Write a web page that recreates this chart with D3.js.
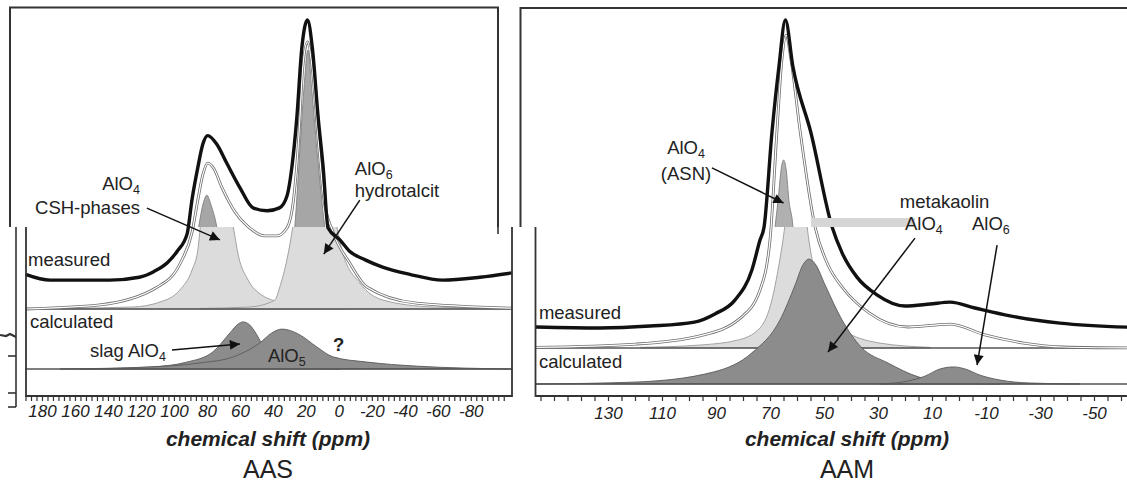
<!DOCTYPE html>
<html>
<head>
<meta charset="utf-8">
<script src="https://cdn.jsdelivr.net/npm/d3@7"></script>
<style>
  body { margin: 0; background: #fff; }
  svg { display: block; font-family: "Liberation Sans", Arial, Helvetica, sans-serif; }
</style>
</head>
<body>
<svg id="fig" width="1127" height="483"></svg>
<script>
// ---------- AAS (left figure), points are [ppm, intensity]
const aasMeasured = [[190,12],[175,10],[157,10],[139,10],[121,11],[112,13],[104,16],[98,20],[92,26],[89,38],
  [85.5,49],[82.5,57],[79.5,60],[74,57],[68,50.5],[60,42],[52,35],[43.5,34],[36,35],[31.5,39],[28.5,49],
  [25.5,66],[22.5,90],[19,100],[16,90],[12.5,66],[9.5,49],[6.5,28],[-0.5,24],[-6.5,20],[-16,17],
  [-26.5,14.5],[-43,12],[-63,10],[-85.5,11],[-105,12.5]];
const aasSum = [[190,0],[145,1.4],[110,7.6],[96,16],[89,26.6],[85.5,37.7],[82.5,46.4],[79.5,50.5],[76,48.8],
  [71,42.2],[63,33.6],[54,28],[45,25.3],[37.5,25.3],[31.5,28],[27.5,37.7],[24,62],[22,82.7],[19,92.4],
  [16,82.7],[12.5,58.5],[9,37.7],[3.5,26.6],[-6.5,16],[-17,7.6],[-47,2],[-105,0.3]];
// fitted components shown in the upper (full height) view
const aasTopCsh = [[93.3,0],[88.5,17],[85,28.4],[82.5,36],[80,39.4],[77.5,36],[74,28.4],[71,17],[65,0]];
const aasTopHt = [[32.7,0],[28.5,17],[26.7,28.4],[23.6,55],[21.2,75.8],[18.8,89.6],[16.4,75.8],[13.3,55],
  [8.5,28.4],[5.5,17],[0.6,0]];
// the same components in the expanded lower view
const aasCsh = [[169,0.2],[125,0.7],[108.5,2.4],[96.4,6.6],[89,13.5],[85.5,20.4],[84,28.4],[81,41],[74.5,48],
  [68,41],[64,28.4],[61,18.7],[55,10],[46.7,4.8],[38.8,2.8],[23.6,1],[-6.7,0.2]];
const aasHt = [[84,0.2],[54,0.7],[38.8,3.1],[35.8,7.6],[31.5,17],[27.9,28.4],[23.6,44.6],[14.5,55],[5.5,44.6],
  [1.2,28.4],[-2.4,19.4],[-12.7,9],[-26.7,3.1],[-57,0.7],[-105,0.2]];
// calculated components
const aasSlag = [[157,0],[114.5,0.7],[92,2.4],[76.4,5.9],[66,12.5],[61,15.6],[58,16.3],[54,15.2],[49.7,11.8],
  [44.8,6.6],[35.8,2.4],[23.6,0.7],[-0.6,0]];
const aasAlO5 = [[169,0],[114.5,0.7],[84,2.1],[64,4.2],[48,9],[40.6,12.5],[34.5,13.8],[28.5,13.1],[23.6,11.8],
  [13.3,7.6],[3.6,4.2],[-17,2.4],[-47,1],[-105,0]];
const aasTickLabels = [180,160,140,120,100,80,60,40,20,0,-20,-40,-60,-80];

// ---------- AAM (right figure)
const aamMeasured = [[156.7,6.4],[133,6.1],[114.4,6.7],[98,7.9],[90.4,10.4],[83,14.6],[76.7,23.8],[73.7,32.9],
  [72.2,36.9],[69.3,65.5],[66.7,85.7],[64.3,100],[61.5,85.7],[54.8,65.5],[47,36.9],[43.3,29],[37.8,21.6],
  [30.4,16.2],[20,12.8],[10.7,13.4],[3.3,14],[-5.9,12.2],[-18.9,9.8],[-37.4,7.6],[-64,6.3]];
const aamSum = [[156.7,0.2],[119.6,1.2],[96,3.7],[81,9.1],[73.7,17.7],[70,32.9],[67.4,66.5],[65.6,87.8],
  [64,95.4],[62.2,87.8],[58.9,66.5],[53.3,36.9],[48.5,25.3],[43.3,18.6],[33.3,10.7],[18.9,6.4],[8.9,7],
  [3.3,7.3],[-9.6,4],[-24,1.5],[-38.5,0.3],[-64,0]];
const aamTopAsn = [[73.7,0],[70,14.6],[68.1,36.9],[67,45],[65.9,54.3],[65,57.3],[64,54.3],[63,45],[61.5,36.9],
  [60,14.6],[55.6,0]];
const aamAsn = [[118,0.2],[96,0.9],[82,2.4],[73.7,6.1],[69.3,14.6],[66.7,25.3],[65.2,32.9],[63.3,45],[60.4,60.4],
  [57.4,45],[55.6,32.9],[54,25.3],[50.7,14.6],[44,6.1],[29.3,1.5],[10.7,0.2]];
const aamMkAlO4 = [[156.7,0],[119.6,0.6],[90.7,3.7],[76.7,9.5],[66.3,19.5],[60.7,30.2],[57.8,36.3],[55.6,38.1],
  [53,36.3],[49.6,30.2],[43.3,19.5],[36.3,11.3],[26.3,6.4],[14.8,2.1],[4.8,0.6],[-15,0]];
const aamMkAlO6 = [[29.3,0],[18.9,0.9],[12.6,2.4],[7,4.6],[1.9,5.2],[-2.2,4.6],[-7.8,2.7],[-15.2,1.2],
  [-26.3,0.3],[-44.8,0]];
const aamTickLabels = [130,110,90,70,50,30,10,-10,-30,-50];

const svg = d3.select("#fig");
const defs = svg.append("defs");
defs.append("marker").attr("id", "arr")
  .attr("viewBox", "0 0 10 10").attr("refX", 10).attr("refY", 5)
  .attr("markerWidth", 14).attr("markerHeight", 10)
  .attr("markerUnits", "userSpaceOnUse").attr("orient", "auto")
  .append("path").attr("d", "M0,0L10,5L0,10z").attr("fill", "#111");

function clip(id, r) {
  defs.append("clipPath").attr("id", id).append("rect")
    .attr("x", r[0]).attr("y", r[1]).attr("width", r[2]).attr("height", r[3]);
}

function chem(g, px, py, base, sub, anchor) {
  const t = g.append("text").attr("x", px).attr("y", py)
    .attr("text-anchor", anchor || "start").attr("font-size", 18.5).attr("fill", "#222");
  t.append("tspan").text(base);
  t.append("tspan").attr("font-size", 12.5).attr("dy", 4).text(sub);
}

function panel(p) {
  const x = d3.scaleLinear().domain(p.xDomain).range(p.xRange);
  const y = d3.scaleLinear().domain([0, 100]).range(p.yMeas);
  const yc = d3.scaleLinear().domain([0, 100]).range(p.yCalc);
  const line = ys => d3.line().x(d => x(d[0])).y(d => ys(d[1])).curve(d3.curveMonotoneX);
  const area = ys => d3.area().x(d => x(d[0])).y0(ys(0)).y1(d => ys(d[1])).curve(d3.curveMonotoneX);

  const fill = (g, data, ys, color, edge) => g.append("path").datum(data).attr("d", area(ys))
    .attr("fill", color).attr("stroke", edge).attr("stroke-width", 0.9);
  const sum = (g, data) => {
    g.append("path").datum(data).attr("d", line(y)).attr("fill", "none")
      .attr("stroke", "#6e6e6e").attr("stroke-width", 2.8);
    g.append("path").datum(data).attr("d", line(y)).attr("fill", "none")
      .attr("stroke", "#fff").attr("stroke-width", 1.2);
  };
  const meas = g => g.append("path").datum(p.measured).attr("d", line(y)).attr("fill", "none")
    .attr("stroke", "#111").attr("stroke-width", 3.4).attr("stroke-linejoin", "round");

  // upper, full-height view
  clip(p.id + "top", p.topClip);
  const top = svg.append("g").attr("clip-path", `url(#${p.id}top)`);
  top.append("rect").attr("x", p.topBox[0]).attr("y", p.topBox[1])
    .attr("width", p.topBox[2]).attr("height", p.topBox[3])
    .attr("fill", "#fff").attr("stroke", "#333").attr("stroke-width", 2);
  p.topParts.forEach(c => fill(top, c, y, p.topColor, "#808080"));
  sum(top, p.sum);
  meas(top);

  // lower, expanded view
  clip(p.id + "low", p.lowClip);
  const low = svg.append("g").attr("clip-path", `url(#${p.id}low)`);
  p.lowParts.forEach(c => fill(low, c, y, "#dcdcdc", "#9a9a9a"));
  low.append("line").attr("x1", x.range()[0]).attr("x2", x.range()[1])
    .attr("y1", y(0)).attr("y2", y(0)).attr("stroke", "#555").attr("stroke-width", 1.6);
  p.calcParts.forEach(c => fill(low, c, yc, "#8c8c8c", "#5a5a5a"));
  low.append("line").attr("x1", x.range()[0]).attr("x2", x.range()[1])
    .attr("y1", yc(0)).attr("y2", yc(0)).attr("stroke", "#555").attr("stroke-width", 1.6);
  sum(low, p.sum);
  meas(low);

  // frame of the lower view
  const f = p.lowFrame;
  const fr = svg.append("g").attr("stroke", "#333").attr("stroke-width", 1.8).attr("fill", "none");
  fr.append("line").attr("x1", f.left).attr("x2", f.left).attr("y1", f.top).attr("y2", f.bottom + 0.9);
  fr.append("line").attr("x1", f.left).attr("x2", f.right).attr("y1", f.bottom).attr("y2", f.bottom);
  if (f.rightLine) fr.append("line").attr("x1", f.right).attr("x2", f.right).attr("y1", f.top).attr("y2", f.bottom + 0.9);

  // axis
  const ax = svg.append("g").attr("transform", `translate(0,${f.bottom})`);
  ax.append("g").call(d3.axisBottom(x).tickValues(p.minorTicks).tickSize(5).tickSizeOuter(0).tickFormat(""))
    .call(g => g.select(".domain").remove())
    .call(g => g.selectAll("line").attr("stroke", "#333").attr("stroke-width", 1.2));
  ax.append("g").call(d3.axisBottom(x).tickValues(p.tickLabels).tickSize(0).tickPadding(p.labelPad)
      .tickFormat(d => String(d)))
    .call(g => g.select(".domain").remove())
    .call(g => g.selectAll("text").attr("font-size", 17).attr("font-style", "italic")
      .attr("fill", "#222").attr("font-family", "Liberation Sans, Arial, sans-serif"));

  svg.append("text").attr("x", p.titleX).attr("y", 446).attr("text-anchor", "middle")
    .attr("font-size", 21).attr("font-weight", "bold").attr("font-style", "italic").attr("fill", "#222")
    .text("chemical shift (ppm)");
  svg.append("text").attr("x", p.titleX).attr("y", 478).attr("text-anchor", "middle")
    .attr("font-size", 25).attr("fill", "#222").text(p.name);

  return { x, y };
}

// ---------- left
const L = panel({
  id: "aas", name: "AAS", titleX: 268,
  xDomain: [190, -105], xRange: [25.5, 512],
  yMeas: [309, 20], yCalc: [369, 80],
  topClip: [0, 0, 517, 227], topBox: [10, 7.5, 488, 300], topColor: "#a6a6a6",
  lowClip: [0, 227, 517, 256],
  lowFrame: { left: 26, right: 512, top: 227, bottom: 396, rightLine: true },
  measured: aasMeasured, sum: aasSum,
  topParts: [aasTopCsh, aasTopHt], lowParts: [aasCsh, aasHt], calcParts: [aasSlag, aasAlO5],
  minorTicks: d3.range(-100, 190.1, 10 / 3), tickLabels: aasTickLabels, labelPad: 9
});

// fragment of a neighbouring axis at the far left
const frag = svg.append("g").attr("stroke", "#333").attr("stroke-width", 1.6).attr("fill", "none");
frag.append("line").attr("x1", 16).attr("x2", 16).attr("y1", 227).attr("y2", 407);
[356, 393, 407].forEach(v => frag.append("line").attr("x1", 8).attr("x2", 16).attr("y1", v).attr("y2", v));
frag.append("path").attr("d", "M0,335L6,336L10,334L16,337").attr("stroke-width", 2.2);
frag.append("line").attr("x1", 498).attr("x2", 498).attr("y1", 227).attr("y2", 234);

const la = svg.append("g");
const aLine = (g, s, a, b) => g.append("line")
  .attr("x1", s.x(a[0])).attr("y1", s.y(a[1])).attr("x2", s.x(b[0])).attr("y2", s.y(b[1]))
  .attr("stroke", "#111").attr("stroke-width", 1.5).attr("marker-end", "url(#arr)");
const txt = (g, s, at, str, anchor, extra) => {
  const t = g.append("text").attr("x", s.x(at[0])).attr("y", s.y(at[1]))
    .attr("text-anchor", anchor || "start").attr("font-size", 18.5).attr("fill", "#222").text(str);
  if (extra) extra(t);
  return t;
};
aLine(la, L, [116.4, 34.9], [72.1, 23.9]);
aLine(la, L, [-12.7, 37.7], [9.1, 19]);
aLine(la, L, [101.2, -14.2], [60, -12.1]);
chem(la, L.x(120.6), L.y(41.3), "AlO", "4", "end");
txt(la, L, [120.6, 33], "CSH-phases", "end");
chem(la, L.x(-9.7), L.y(46.4), "AlO", "6");
txt(la, L, [-9.7, 38.8], "hydrotalcit");
txt(la, L, [188.5, 14.9], "measured");
txt(la, L, [187.3, -6.6], "calculated");
chem(la, L.x(150.9), L.y(-16.6), "slag AlO", "4");
chem(la, L.x(43), L.y(-18.3), "AlO", "5");
txt(la, L, [3.6, -14.5], "?", "start", t => t.attr("font-weight", "bold"));

// ---------- right
const R = panel({
  id: "aam", name: "AAM", titleX: 847,
  xDomain: [157, -64], xRange: [535.1, 1131.8],
  yMeas: [348, 20], yCalc: [384, 56],
  topClip: [517, 0, 610, 227], topBox: [520.5, 8, 700, 300], topColor: "#b0b0b0",
  lowClip: [517, 227, 610, 256],
  lowFrame: { left: 535.5, right: 1130, top: 227, bottom: 396, rightLine: false },
  measured: aamMeasured, sum: aamSum,
  topParts: [aamTopAsn], lowParts: [aamAsn], calcParts: [aamMkAlO4, aamMkAlO6],
  minorTicks: d3.range(-60, 157, 5), tickLabels: aamTickLabels, labelPad: 11
});

// smeared strip left over in the original scan
svg.append("rect").attr("x", R.x(54.8)).attr("y", 218).attr("width", R.x(16.3) - R.x(54.8)).attr("height", 9)
  .attr("fill", "#d6d6d6");

const ra = svg.append("g");
aLine(ra, R, [91.5, 54.9], [65, 44.2]);
aLine(ra, R, [16.3, 33.5], [48.5, -1.2]);
aLine(ra, R, [-14.1, 31.4], [-6.7, -5.2]);
chem(ra, R.x(101.1), R.y(59), "AlO", "4", "middle");
txt(ra, R, [101.1, 51.3], "(ASN)", "middle");
txt(ra, R, [21.9, 42.7], "metakaolin");
chem(ra, R.x(20), R.y(36), "AlO", "4");
chem(ra, R.x(-4.8), R.y(36), "AlO", "6");
txt(ra, R, [155.6, 8.8], "measured");
txt(ra, R, [155.6, -6.1], "calculated");
</script>
</body>
</html>
